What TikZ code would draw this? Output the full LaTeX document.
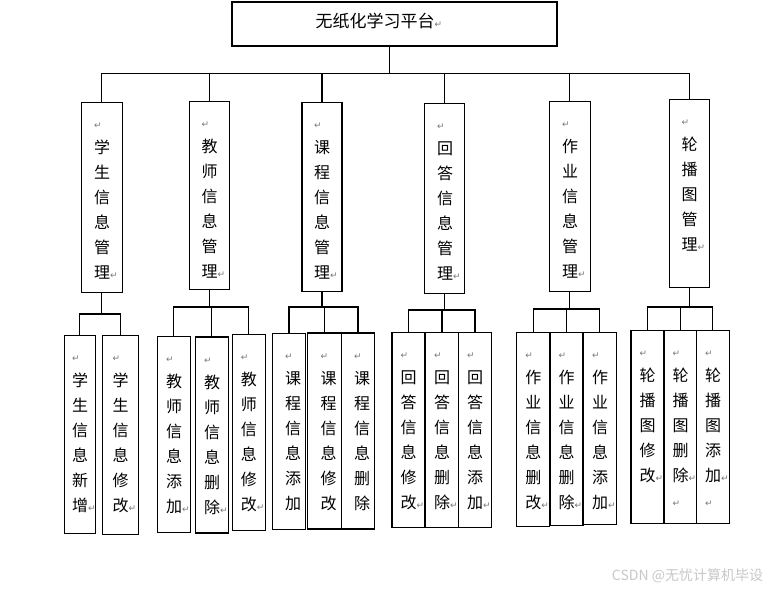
\documentclass[tikz,border=0pt]{standalone}
\usepackage{fontspec}
\setmainfont{Noto Sans CJK SC}
\newfontfamily\symfont{DejaVu Sans}
\definecolor{retgray}{RGB}{120, 120, 120}
\definecolor{wmgray}{RGB}{200, 200, 200}
\newcommand*{\ret}{{\symfont\fontsize{9}{9}\selectfont\textcolor{retgray}{↵}}}

\begin{document}
\begin{tikzpicture}[
   x=1pt, y=-1pt,
   platrec/.style={rectangle, draw=black, line width=1.2, inner sep=0,
                   minimum width=325, minimum height=44},
   modrec/.style={rectangle, draw=black, line width=1.2, inner sep=0,
                  minimum width=40, minimum height=189},
   subrec/.style={rectangle, draw=black, line width=1.2, inner sep=0,
                  minimum width=33, minimum height=196},
   coltext/.style={anchor=north, align=left, inner sep=0, yshift=-21pt, xshift=4pt,
                   font=\fontsize{16}{25}\selectfont},
   link/.style={draw=black, line width=1.2}
  ]

  \path[use as bounding box, fill=white] (0, 0) rectangle (772, 589);

  % Top
  \node (plat) at (394.5, 24) [platrec] {};
  \node (plat-t) at (379, 21) [font=\fontsize{17}{17}\selectfont, inner sep=0] {无纸化学习平台\ret};

  % Modules
  \node (m1) at (101.8, 197.2) [modrec, minimum width=41, minimum height=190] {};
  \node (m2) at (209.3, 195.3) [modrec, minimum height=188] {};
  \node (m3) at (322.0, 196.8) [modrec] {};
  \node (m4) at (444.8, 198.3) [modrec, minimum height=190] {};
  \node (m5) at (569.8, 196.3) [modrec, minimum width=41, minimum height=190] {};
  \node (m6) at (689.3, 193.3) [modrec, minimum height=188] {};

  \node (m1-t) at (m1.north) [coltext] {\ret\\学\\生\\信\\息\\管\\理\ret};
  \node (m2-t) at (m2.north) [coltext] {\ret\\教\\师\\信\\息\\管\\理\ret};
  \node (m3-t) at (m3.north) [coltext] {\ret\\课\\程\\信\\息\\管\\理\ret};
  \node (m4-t) at (m4.north) [coltext] {\ret\\回\\答\\信\\息\\管\\理\ret};
  \node (m5-t) at (m5.north) [coltext] {\ret\\作\\业\\信\\息\\管\\理\ret};
  \node (m6-t) at (m6.north) [coltext] {\ret\\轮\\播\\图\\管\\理\ret};

  % Functions
  \node (sA) at (79.8, 434.2) [subrec, minimum width=31, minimum height=198] {};
  \node (sB) at (120.3, 434.8) [subrec, minimum width=36, minimum height=199] {};
  \node (tA) at (173.8, 434.7) [subrec] {};
  \node (tB) at (211.8, 435.0) [subrec] {};
  \node (tC) at (248.7, 432.7) [subrec] {};
  \node (cA) at (289.0, 431.7) [subrec] {};
  \node (cB) at (324.5, 431.0) [subrec, minimum width=34.4] {};
  \node (cC) at (358.0, 431.0) [subrec] {};
  \node (aA) at (408.5, 429.8) [subrec, minimum height=195] {};
  \node (aB) at (442.0, 429.8) [subrec, minimum height=195] {};
  \node (aC) at (475.0, 429.8) [subrec, minimum height=195] {};
  \node (hA) at (533.2, 429.3) [subrec, minimum height=194] {};
  \node (hB) at (566.5, 428.8) [subrec, minimum height=193] {};
  \node (hC) at (599.8, 428.3) [subrec, minimum height=192] {};
  \node (rA) at (647.5, 427.0) [subrec, minimum height=193] {};
  \node (rB) at (680.3, 427.0) [subrec, minimum width=32, minimum height=193] {};
  \node (rC) at (712.8, 427.0) [subrec, minimum height=193] {};

  \node (sA-t) at (sA.north) [coltext] {\ret\\学\\生\\信\\息\\新\\增\ret};
  \node (sB-t) at (sB.north) [coltext] {\ret\\学\\生\\信\\息\\修\\改\ret};
  \node (tA-t) at (tA.north) [coltext] {\ret\\教\\师\\信\\息\\添\\加\ret};
  \node (tB-t) at (tB.north) [coltext] {\ret\\教\\师\\信\\息\\删\\除\ret};
  \node (tC-t) at (tC.north) [coltext] {\ret\\教\\师\\信\\息\\修\\改\ret};
  \node (cA-t) at (cA.north) [coltext] {\ret\\课\\程\\信\\息\\添\\加};
  \node (cB-t) at (cB.north) [coltext] {\ret\\课\\程\\信\\息\\修\\改};
  \node (cC-t) at (cC.north) [coltext] {\ret\\课\\程\\信\\息\\删\\除};
  \node (aA-t) at (aA.north) [coltext] {\ret\\回\\答\\信\\息\\修\\改\ret};
  \node (aB-t) at (aB.north) [coltext] {\ret\\回\\答\\信\\息\\删\\除\ret};
  \node (aC-t) at (aC.north) [coltext] {\ret\\回\\答\\信\\息\\添\\加\ret};
  \node (hA-t) at (hA.north) [coltext] {\ret\\作\\业\\信\\息\\删\\改\ret};
  \node (hB-t) at (hB.north) [coltext] {\ret\\作\\业\\信\\息\\删\\除\ret};
  \node (hC-t) at (hC.north) [coltext] {\ret\\作\\业\\信\\息\\添\\加\ret};
  \node (rA-t) at (rA.north) [coltext] {\ret\\轮\\播\\图\\修\\改\ret};
  \node (rB-t) at (rB.north) [coltext] {\ret\\轮\\播\\图\\删\\除\ret\\\ret};
  \node (rC-t) at (rC.north) [coltext] {\ret\\轮\\播\\图\\添\\加\ret\\\ret};

  % Links
  \foreach \E in {m1, m2, m3, m4, m5, m6} {
    \draw[link] (plat.south) ++(-5, 0) -- ++(0, 27) -| (\E.north);
  }

  \foreach \B/\E/\Y in {m1/sA/314, m1/sB/314, m2/tA/307, m2/tB/307, m2/tC/307,
                        m3/cA/307, m3/cB/307, m3/cC/307, m4/aA/310, m4/aB/310, m4/aC/310,
                        m5/hA/309, m5/hB/309, m5/hC/309, m6/rA/307, m6/rB/307, m6/rC/307} {
    \draw[link] (\B.south) -- (\B.south |- 0, \Y) -| (\E.north);
  }

  \node (wm) at (687.5, 575.5) [text=wmgray, inner sep=0, font=\fontsize{14}{14}\selectfont] {CSDN @无忧计算机毕设};

\end{tikzpicture}
\end{document}
